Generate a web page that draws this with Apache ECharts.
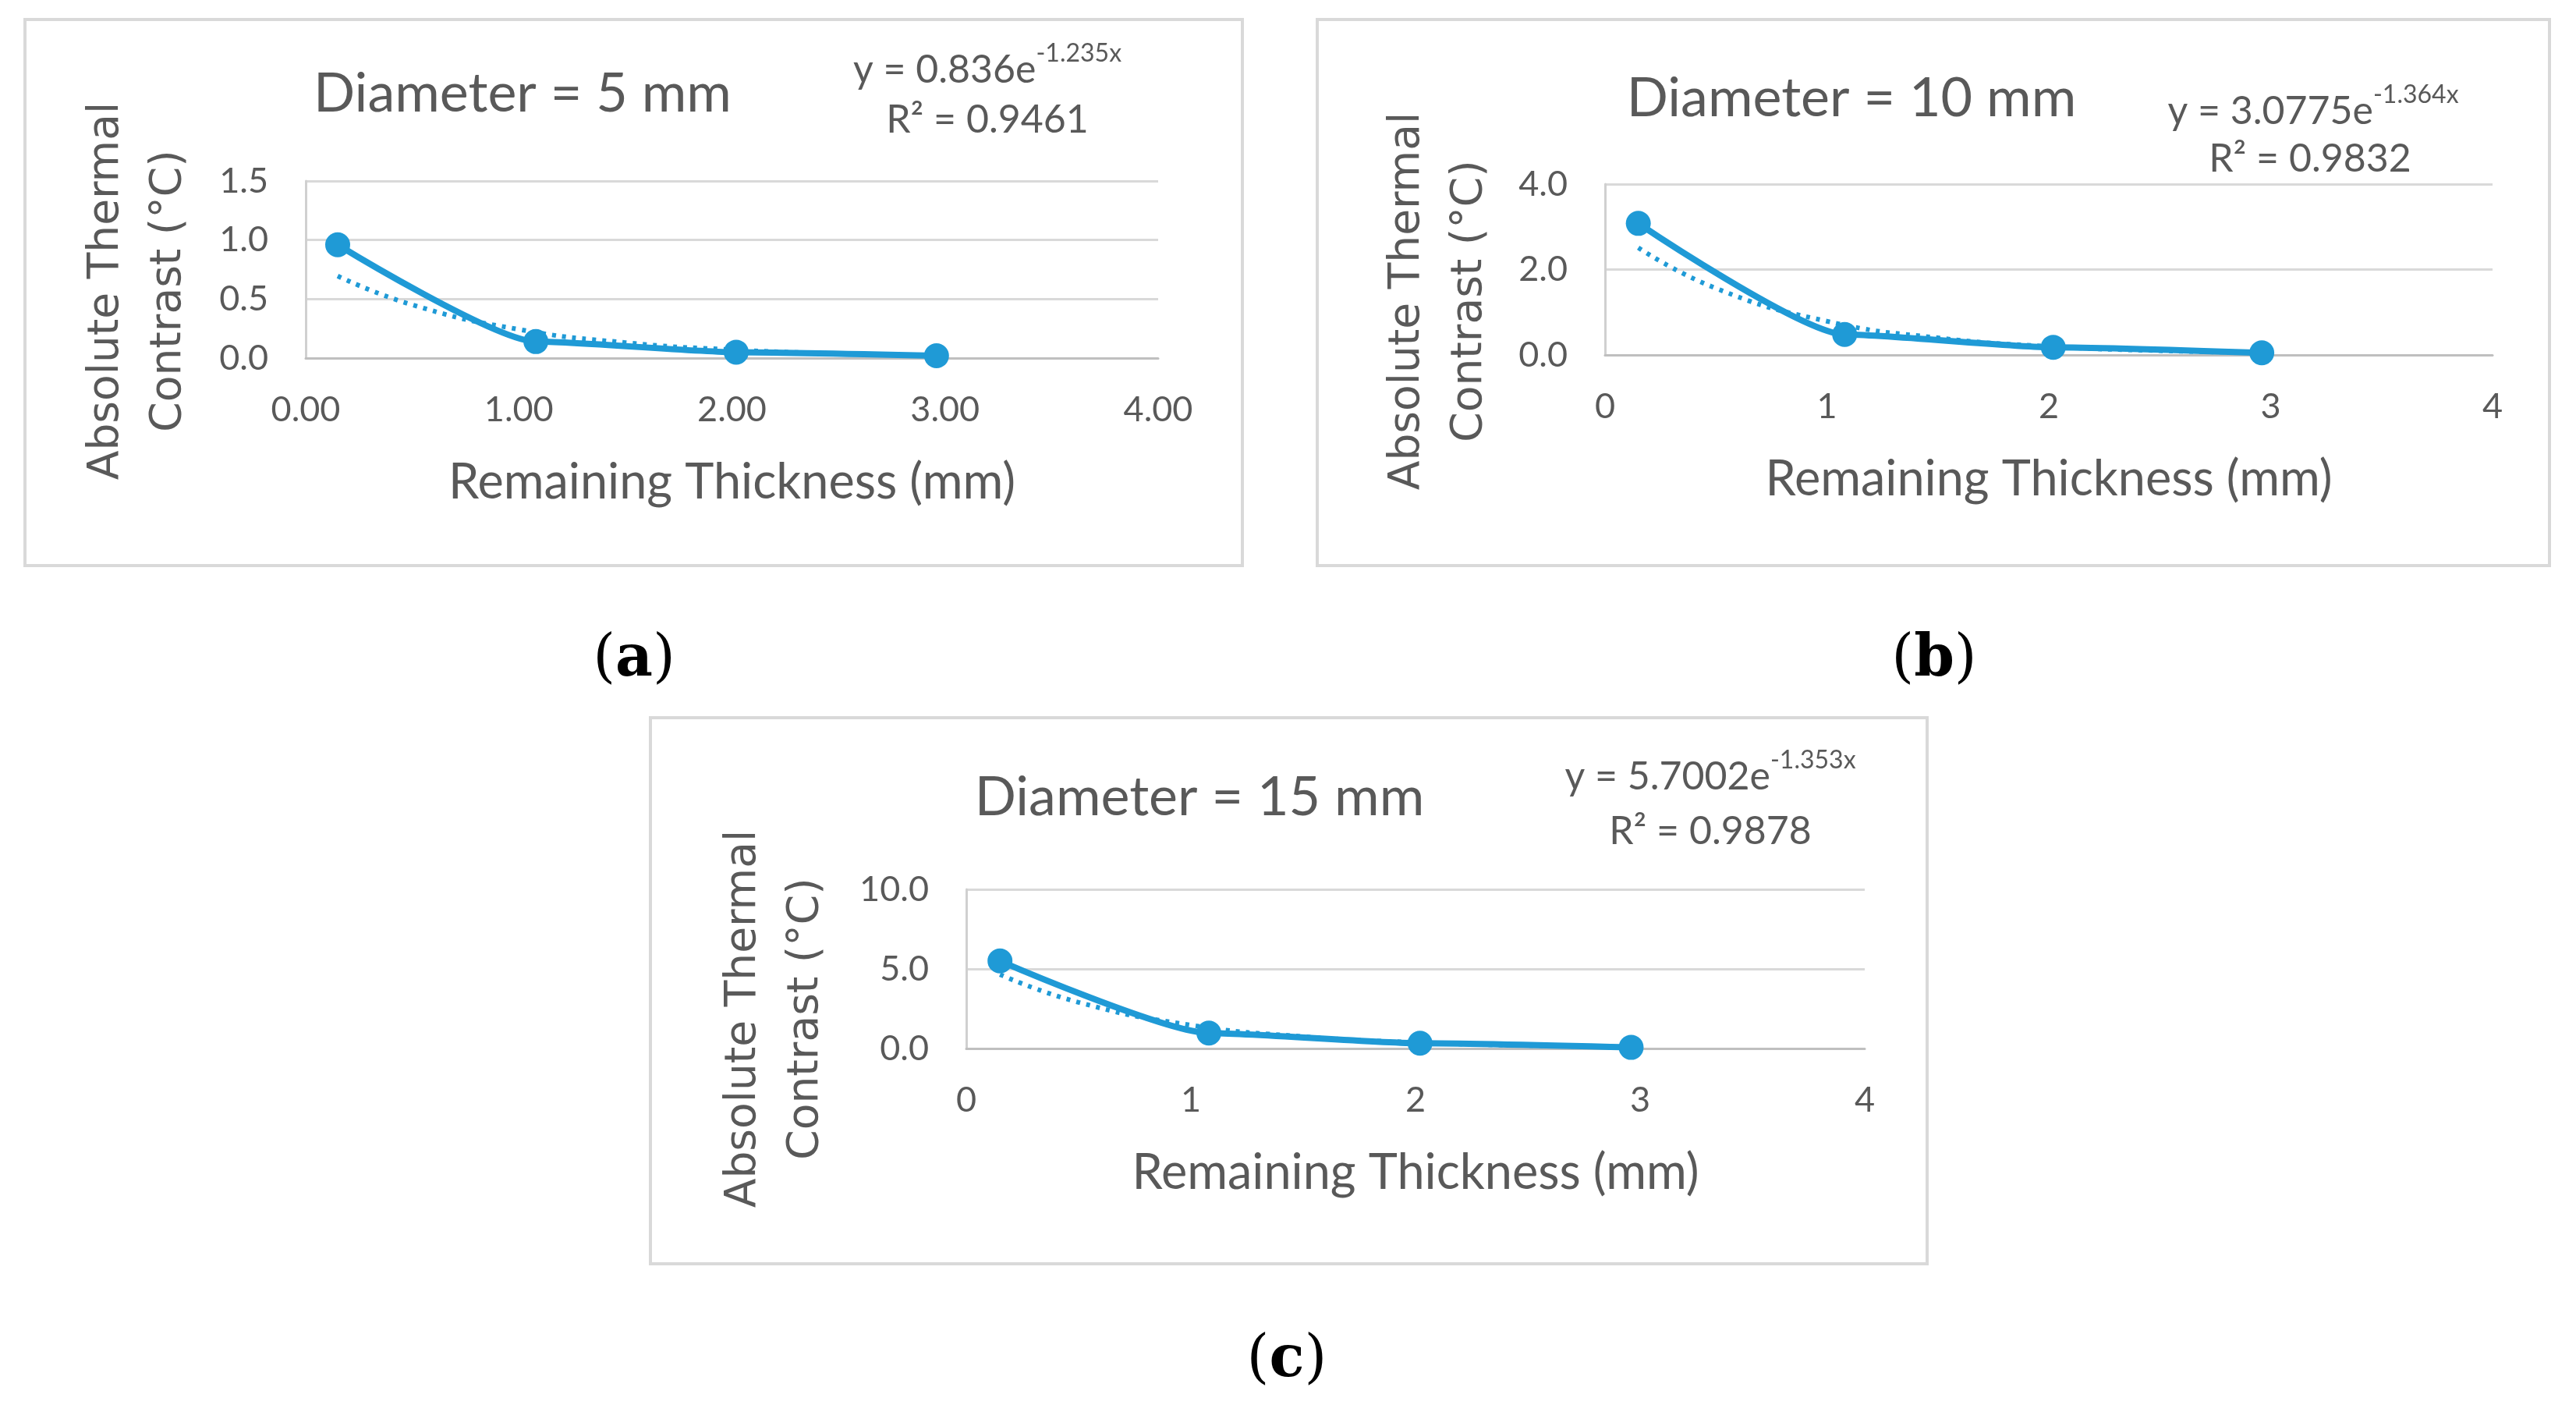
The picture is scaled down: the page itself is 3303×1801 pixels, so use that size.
<!DOCTYPE html>
<html><head><meta charset="utf-8">
<script src="https://cdn.jsdelivr.net/npm/echarts@6/dist/echarts.min.js"></script>
<style>html,body{margin:0;padding:0;background:#fff}#c{width:3303px;height:1801px}</style>
</head><body><div id="c"></div>
<script>
// ---- data ----
const thickness = [0.15, 1.08, 2.02, 2.96];
const contrast5 = [0.96, 0.14, 0.05, 0.02];
const contrast10 = [3.08, 0.48, 0.18, 0.05];
const contrast15 = [5.5, 0.97, 0.33, 0.07];
const trendX = [0.15, 0.5, 1.0, 1.5, 2.0, 2.5, 2.96];
const trend5 = [0.695, 0.451, 0.243, 0.131, 0.071, 0.038, 0.022];
const trend10 = [2.51, 1.56, 0.79, 0.40, 0.20, 0.10, 0.054];
const trend15 = [4.65, 2.90, 1.47, 0.75, 0.38, 0.19, 0.10];
const titles = ['Diameter = 5 mm', 'Diameter = 10 mm', 'Diameter = 15 mm'];
const eqCoef = ['0.836', '3.0775', '5.7002'];
const eqExp = ['-1.235x', '-1.364x', '-1.353x'];
const rSquared = ['0.9461', '0.9832', '0.9878'];
const xTickDecimals = [2, 0, 0];
const yMax = [1.5, 4, 10];
const yInterval = [0.5, 2, 5];
const captions = ['a', 'b', 'c'];
const xAxisTitle = 'Remaining Thickness (mm)';
const yAxisTitle = 'Absolute Thermal\nContrast (°C)';

// ---- layout (pixels) ----
const L = [
  {box:[32,25,1561,700], grid:[392,232,1093,227], title:[670,120], eq:[1266,84], r2:[1266,154], ytitle:[177,373], cap:[813,847]},
  {box:[1689,25,1580,700], grid:[2058,236,1138,219], title:[2374,126], eq:[2966,137], r2:[2962,204], ytitle:[1845,386], cap:[2480,847]},
  {box:[834,920,1637,700], grid:[1239,1140,1152,204], title:[1538,1022], eq:[2193,990], r2:[2193,1066], ytitle:[994,1306], cap:[1650,1745]}
];
const values = [contrast5, contrast10, contrast15];
const trends = [trend5, trend10, trend15];
const BLUE = '#1F9AD6', GRAY = '#595959';
const F = 'Lato, "Open Sans", sans-serif';

const grids = [], xAxes = [], yAxes = [], series = [], graphics = [];
L.forEach((p, i) => {
  graphics.push({type:'rect', z:-10, shape:{x:p.box[0], y:p.box[1], width:p.box[2], height:p.box[3]},
    style:{fill:'#fff', stroke:'#d9d9d9', lineWidth:4}});
  graphics.push({type:'text', x:p.title[0], y:p.title[1],
    style:{text:titles[i], font:'70px ' + F, fill:GRAY, align:'center', verticalAlign:'middle'}});
  graphics.push({type:'text', x:p.eq[0], y:p.eq[1],
    style:{text:'{m|y = ' + eqCoef[i] + 'e}{s|' + eqExp[i] + '}', align:'center', verticalAlign:'middle',
      rich:{m:{fontSize:50, fontFamily:F, fill:GRAY, lineHeight:62, verticalAlign:'bottom'},
            s:{fontSize:32, fontFamily:F, fill:GRAY, lineHeight:62, verticalAlign:'top', padding:[0,0,24,0]}}}});
  graphics.push({type:'text', x:p.r2[0], y:p.r2[1],
    style:{text:'R² = ' + rSquared[i], font:'50px ' + F, fill:GRAY, align:'center', verticalAlign:'middle'}});
  graphics.push({type:'text', x:p.ytitle[0], y:p.ytitle[1], rotation:Math.PI/2,
    style:{text:yAxisTitle, font:'55px "DejaVu Sans", sans-serif', fill:GRAY, align:'center', verticalAlign:'middle', lineHeight:80}});
  graphics.push({type:'text', x:p.cap[0], y:p.cap[1],
    style:{text:'{n|(}{b|' + captions[i] + '}{n|)}', align:'center', verticalAlign:'middle',
      rich:{n:{fontSize:74, fontFamily:'"DejaVu Serif", serif', fill:'#000'},
            b:{fontSize:74, fontFamily:'"DejaVu Serif", serif', fontWeight:'bold', fill:'#000'}}}});

  grids.push({left:p.grid[0], top:p.grid[1], width:p.grid[2], height:p.grid[3], containLabel:false});
  const dec = xTickDecimals[i];
  xAxes.push({type:'value', gridIndex:i, min:0, max:4, interval:1,
    axisLine:{show:true, lineStyle:{color:'#bfbfbf', width:3}}, axisTick:{show:false}, splitLine:{show:false},
    axisLabel:{margin:44, fontSize:45, fontFamily:F, color:GRAY, formatter:v => v.toFixed(dec)},
    name:xAxisTitle, nameLocation:'middle', nameGap:128, nameTextStyle:{fontSize:63, fontFamily:F, color:GRAY}});
  yAxes.push({type:'value', gridIndex:i, min:0, max:yMax[i], interval:yInterval[i],
    axisLine:{show:true, lineStyle:{color:'#d0d0d0', width:3}}, axisTick:{show:false},
    splitLine:{show:true, lineStyle:{color:'#d9d9d9', width:3}},
    axisLabel:{margin:48, fontSize:45, fontFamily:F, color:GRAY, formatter:v => v.toFixed(1)}});
  series.push({type:'line', xAxisIndex:i, yAxisIndex:i, smooth:0.2, smoothMonotone:'x',
    data:thickness.map((x, k) => [x, values[i][k]]),
    symbol:'circle', symbolSize:32, itemStyle:{color:BLUE}, lineStyle:{color:BLUE, width:8}, z:3});
  series.push({type:'line', xAxisIndex:i, yAxisIndex:i, smooth:true, symbol:'none',
    data:trendX.map((x, k) => [x, trends[i][k]]),
    lineStyle:{color:BLUE, width:6, type:[5, 8], cap:'butt'}, z:2});
});

const chart = echarts.init(document.getElementById('c'), null, {renderer:'canvas'});
chart.setOption({backgroundColor:'#fff', animation:false, grid:grids, xAxis:xAxes, yAxis:yAxes, series:series, graphic:graphics});
</script></body></html>
